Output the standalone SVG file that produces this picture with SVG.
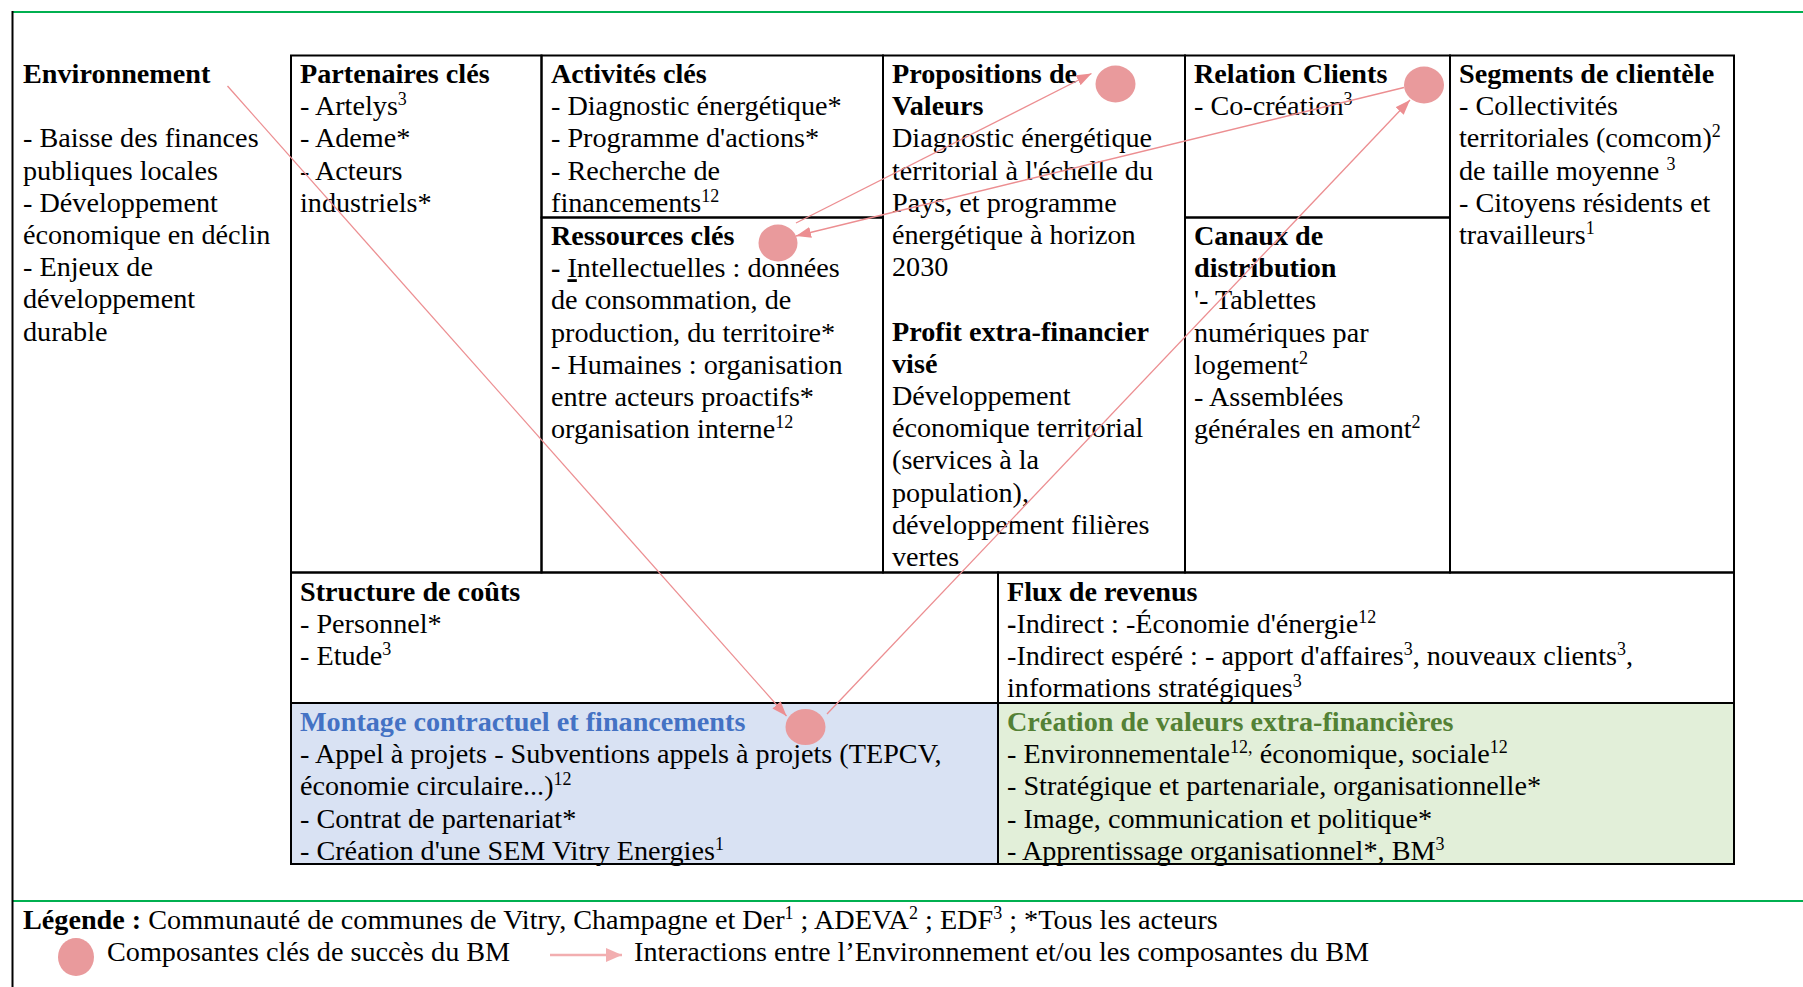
<svg xmlns="http://www.w3.org/2000/svg" width="1803" height="987" viewBox="0 0 1803 987">
<defs>
<style>
text{font-family:"Liberation Serif","Times New Roman",serif;font-size:28.2px;fill:#000}
.b{font-weight:bold}
.sup{font-size:18px;baseline-shift:super}
.cell{fill:none;stroke:#000;stroke-width:2}
.dot{fill:#E99A9C}
.conn{stroke:#EC8E91;stroke-width:1.3;fill:none}
</style>
<marker id="ah" markerUnits="userSpaceOnUse" markerWidth="15" markerHeight="11" refX="15" refY="5.5" orient="auto"><path d="M0,0 L15,5.5 L0,11 z" fill="#EC8E91"/></marker>
<marker id="ah2" markerUnits="userSpaceOnUse" markerWidth="16" markerHeight="14" refX="16" refY="7" orient="auto"><path d="M0,0 L16,7 L0,14 z" fill="#F2AEB0"/></marker>
</defs>
<rect width="1803" height="987" fill="#fff"/>
<g id="frame">
<line x1="12" y1="12" x2="1803" y2="12" stroke="#00B050" stroke-width="2"/>
<line x1="12" y1="901" x2="1803" y2="901" stroke="#00B050" stroke-width="2"/>
<line x1="12.5" y1="11" x2="12.5" y2="987" stroke="#000" stroke-width="2"/>
</g>
<g id="environnement">
<text x="23" y="83" class="b">Environnement</text>
<text x="23" y="147.4">- Baisse des finances</text>
<text x="23" y="179.6">publiques locales</text>
<text x="23" y="211.8">- Développement</text>
<text x="23" y="244">économique en déclin</text>
<text x="23" y="276.2">- Enjeux de</text>
<text x="23" y="308.4">développement</text>
<text x="23" y="340.6">durable</text>
</g>
<g id="partenaires">
<rect class="cell" x="291" y="55.5" width="250.5" height="517"/>
<text x="300" y="83" class="b">Partenaires clés</text>
<text x="300" y="115.2">- Artelys<tspan class="sup">3</tspan></text>
<text x="300" y="147.4">- Ademe*</text>
<text x="300" y="179.6">- Acteurs</text>
<text x="300" y="211.8">industriels*</text>
</g>
<g id="activites">
<rect class="cell" x="541.5" y="55.5" width="341.5" height="162"/>
<text x="551" y="83" class="b">Activités clés</text>
<text x="551" y="115.2">- Diagnostic énergétique*</text>
<text x="551" y="147.4">- Programme d'actions*</text>
<text x="551" y="179.6">- Recherche de</text>
<text x="551" y="211.8">financements<tspan class="sup">12</tspan></text>
</g>
<g id="ressources">
<rect class="cell" x="541.5" y="217.5" width="341.5" height="355"/>
<text x="551" y="245" class="b">Ressources clés</text>
<text x="551" y="277.2"><tspan class="b">- </tspan><tspan text-decoration="underline">I</tspan>ntellectuelles : données</text>
<text x="551" y="309.4">de consommation, de</text>
<text x="551" y="341.6">production, du territoire*</text>
<text x="551" y="373.8">- Humaines : organisation</text>
<text x="551" y="406">entre acteurs proactifs*</text>
<text x="551" y="438.2">organisation interne<tspan class="sup">12</tspan></text>
<ellipse class="dot" cx="778" cy="243" rx="19.5" ry="18.5"/>
</g>
<g id="propositions">
<rect class="cell" x="883" y="55.5" width="302" height="517"/>
<text x="892" y="83" class="b">Propositions de</text>
<text x="892" y="115.2" class="b">Valeurs</text>
<text x="892" y="147.4">Diagnostic énergétique</text>
<text x="892" y="179.6">territorial à l'échelle du</text>
<text x="892" y="211.8">Pays, et programme</text>
<text x="892" y="244">énergétique à horizon</text>
<text x="892" y="276.2">2030</text>
<text x="892" y="340.6" class="b">Profit extra-financier</text>
<text x="892" y="372.8" class="b">visé</text>
<text x="892" y="405">Développement</text>
<text x="892" y="437.2">économique territorial</text>
<text x="892" y="469.4">(services à la</text>
<text x="892" y="501.6">population),</text>
<text x="892" y="533.8">développement filières</text>
<text x="892" y="566">vertes</text>
<ellipse class="dot" cx="1115.5" cy="84" rx="20" ry="18.5"/>
</g>
<g id="relation">
<rect class="cell" x="1185" y="55.5" width="265" height="162"/>
<text x="1194" y="83" class="b">Relation Clients</text>
<text x="1194" y="115.2">- Co-création<tspan class="sup">3</tspan></text>
<ellipse class="dot" cx="1424" cy="85" rx="20" ry="18.5"/>
</g>
<g id="canaux">
<rect class="cell" x="1185" y="217.5" width="265" height="355"/>
<text x="1194" y="245" class="b">Canaux de</text>
<text x="1194" y="277.2" class="b">distribution</text>
<text x="1194" y="309.4">'- Tablettes</text>
<text x="1194" y="341.6">numériques par</text>
<text x="1194" y="373.8">logement<tspan class="sup">2</tspan></text>
<text x="1194" y="406">- Assemblées</text>
<text x="1194" y="438.2">générales en amont<tspan class="sup">2</tspan></text>
</g>
<g id="segments">
<rect class="cell" x="1450" y="55.5" width="284" height="517"/>
<text x="1459" y="83" class="b">Segments de clientèle</text>
<text x="1459" y="115.2">- Collectivités</text>
<text x="1459" y="147.4">territoriales (comcom)<tspan class="sup">2</tspan></text>
<text x="1459" y="179.6">de taille moyenne <tspan class="sup">3</tspan></text>
<text x="1459" y="211.8">- Citoyens résidents et</text>
<text x="1459" y="244">travailleurs<tspan class="sup">1</tspan></text>
</g>
<g id="structure">
<rect class="cell" x="291" y="572.5" width="707" height="130.5"/>
<text x="300" y="600.5" class="b">Structure de coûts</text>
<text x="300" y="632.7">- Personnel*</text>
<text x="300" y="664.9">- Etude<tspan class="sup">3</tspan></text>
</g>
<g id="flux">
<rect class="cell" x="998" y="572.5" width="736" height="130.5"/>
<text x="1007" y="600.5" class="b">Flux de revenus</text>
<text x="1007" y="632.7"><tspan class="b">-</tspan>Indirect : -Économie d'énergie<tspan class="sup">12</tspan></text>
<text x="1007" y="664.9">-Indirect espéré : - apport d'affaires<tspan class="sup">3</tspan><tspan>, nouveaux clients</tspan><tspan class="sup">3</tspan><tspan>,</tspan></text>
<text x="1007" y="697.1">informations stratégiques<tspan class="sup">3</tspan></text>
</g>
<g id="montage">
<rect x="291" y="703" width="707" height="161" fill="#D9E2F3" stroke="#000" stroke-width="2"/>
<text x="300" y="731" class="b" style="fill:#4472C4">Montage contractuel et financements</text>
<text x="300" y="763.2">- Appel à projets - Subventions appels à projets (TEPCV,</text>
<text x="300" y="795.4">économie circulaire...)<tspan class="sup">12</tspan></text>
<text x="300" y="827.6">- Contrat de partenariat*</text>
<text x="300" y="859.8">- Création d'une SEM Vitry Energies<tspan class="sup">1</tspan></text>
<ellipse class="dot" cx="805.5" cy="727" rx="20" ry="18"/>
</g>
<g id="creation">
<rect x="998" y="703" width="736" height="161" fill="#E2EFD9" stroke="#000" stroke-width="2"/>
<text x="1007" y="731" class="b" style="fill:#538135">Création de valeurs extra-financières</text>
<text x="1007" y="763.2">- Environnementale<tspan class="sup">12,</tspan><tspan> économique, sociale</tspan><tspan class="sup">12</tspan></text>
<text x="1007" y="795.4">- Stratégique et partenariale, organisationnelle*</text>
<text x="1007" y="827.6">- Image, communication et politique*</text>
<text x="1007" y="859.8">- Apprentissage organisationnel*, BM<tspan class="sup">3</tspan></text>
</g>
<g id="connectors">
<line class="conn" x1="227.5" y1="86" x2="786.5" y2="716" marker-end="url(#ah)"/>
<line class="conn" x1="796" y1="223" x2="1091.5" y2="73.5" marker-end="url(#ah)"/>
<line class="conn" x1="1404" y1="87.5" x2="796" y2="236" marker-end="url(#ah)"/>
<line class="conn" x1="827" y1="714" x2="1410" y2="100" marker-end="url(#ah)"/>
</g>
<g id="legend">
<text x="23" y="929" ><tspan class="b">Légende :</tspan> Communauté de communes de Vitry, Champagne et Der<tspan class="sup">1</tspan><tspan> ; ADEVA</tspan><tspan class="sup">2</tspan><tspan> ; EDF</tspan><tspan class="sup">3</tspan><tspan> ; *Tous les acteurs</tspan></text>
<ellipse class="dot" cx="76" cy="957" rx="18" ry="19"/>
<text x="107" y="961">Composantes clés de succès du BM</text>
<line x1="550" y1="955" x2="622" y2="955" stroke="#F2AEB0" stroke-width="2.5" marker-end="url(#ah2)"/>
<text x="634" y="961">Interactions entre l’Environnement et/ou les composantes du BM</text>
</g>
</svg>
